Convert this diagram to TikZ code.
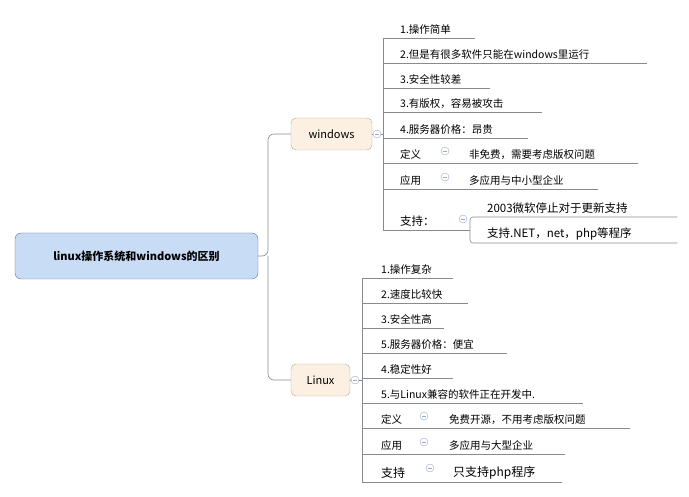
\documentclass[tikz,border=0pt]{standalone}
\usepackage{fontspec}
\setmainfont{Noto Sans CJK SC}
\usetikzlibrary{positioning}
\definecolor{rootfill}{HTML}{C9DCF6}
\definecolor{rootline}{HTML}{5C6F8C}
\definecolor{topicfill}{HTML}{FCF0E3}
\definecolor{topicline}{HTML}{B8A892}
\definecolor{linkgray}{HTML}{8A8A8A}
\definecolor{foldblue}{HTML}{9AAAC2}
\begin{document}
\begin{tikzpicture}[
        x=1pt, y=-1pt,
        font=\fontsize{10.5}{12}\selectfont,
        root/.style={draw=rootline, fill=rootfill, rounded corners=6pt, minimum width=243pt, minimum height=46pt, font=\fontsize{11}{13}\selectfont\bfseries},
        topic/.style={draw=topicline, fill=topicfill, rounded corners=5pt, minimum height=32pt, font=\fontsize{11}{13}\selectfont},
        item/.style={anchor=south west, inner xsep=0pt, inner ysep=3pt, text width=#1, align=left},
        fold/.style={circle, draw=foldblue, fill=white, inner sep=0pt, minimum size=8pt,
            path picture={\draw[foldblue] ([xshift=-2pt]path picture bounding box.center) -- ([xshift=2pt]path picture bounding box.center);}},
        link/.style={draw=linkgray, line width=0.6pt}
    ]
    \useasboundingbox (0,0) rectangle (689,497);

    % Root and the two main topics
    \node[root] (root) at (136.5,256) {linux操作系统和windows的区别};
    \node[topic, minimum width=81pt] (win) at (331.5,134) {windows};
    \node[topic, minimum width=59pt] (lin) at (320.5,380) {Linux};
    \coordinate (fork) at (268,256);
    \draw[link, rounded corners=6pt] (root.east) -- (fork) |- (win.west);
    \draw[link, rounded corners=6pt] (fork) |- (lin.west);

    % windows items
    \foreach \n/\y/\e/\t in {1/38/475/1.操作简单, 2/63/647/2.但是有很多软件只能在windows里运行,
        3/88/490/3.安全性较差, 4/112/542/3.有版权，容易被攻击, 5/138/528/4.服务器价格：昂贵} {
        \coordinate (wb\n) at (383,\y);
        \node[item=\e pt-400pt] (w\n) at (400,\y) {\t};
        \draw[link] (wb\n) -- (w\n.south east);
    }
    % windows: 定义, 应用, 支持
    \coordinate (wb6) at (383,163);
    \node[item=30pt] (wdef) at (400,163) {定义};
    \node[item=169pt] (wdefc) at (469,163) {非免费，需要考虑版权问题};
    \draw[link] (wb6) -- (wdefc.south east);
    \node[fold] (wdeffold) at (445,151) {};
    \coordinate (wb7) at (383,189);
    \node[item=30pt] (wapp) at (400,189) {应用};
    \node[item=129pt] (wappc) at (469,189) {多应用与中小型企业};
    \draw[link] (wb7) -- (wappc.south east);
    \node[fold] (wappfold) at (445,177) {};
    \coordinate (wb8) at (383,230);
    \node[item=45pt, font=\fontsize{11.5}{13}\selectfont] (wsup) at (400,230) {支持：};
    \coordinate (wsb1) at (470,217);
    \coordinate (wsb2) at (470,243);
    \node[item=190pt, font=\fontsize{11.5}{13}\selectfont] (wsup1) at (487,217) {2003微软停止对于更新支持};
    \node[item=190pt, font=\fontsize{11.5}{13}\selectfont] (wsup2) at (487,243) {支持.NET，net，php等程序};
    \draw[link] (wb8) -- (wsb1 |- wb8);
    \draw[link, rounded corners=3pt] (wsup1.south east) -- (wsb1) -- (wsb2) -- (wsup2.south east);
    \draw[link, rounded corners=3pt] (wb1) -- (wb8);
    \node[fold] (wsupfold) at (463,219) {};
    \node[fold] (winfold) at (377,134) {};
    \draw[link] (win.east) -- (winfold);
    \draw[link] (winfold.east) -- (wb1 |- winfold);

    % Linux items
    \foreach \n/\y/\e/\t in {1/278/453/1.操作复杂, 2/303/468/2.速度比较快, 3/328/444/3.安全性高,
        4/353/507/5.服务器价格：便宜, 5/378/453/4.稳定性好, 6/403/583/5.与Linux兼容的软件正在开发中.} {
        \coordinate (lb\n) at (362,\y);
        \node[item=\e pt-381pt] (l\n) at (381,\y) {\t};
        \draw[link] (lb\n) -- (l\n.south east);
    }
    % Linux: 定义, 应用, 支持
    \coordinate (lb7) at (362,428);
    \node[item=30pt] (ldef) at (381,428) {定义};
    \node[item=181pt] (ldefc) at (449,428) {免费开源，不用考虑版权问题};
    \draw[link] (lb7) -- (ldefc.south east);
    \node[fold] (ldeffold) at (424,416) {};
    \coordinate (lb8) at (362,454);
    \node[item=30pt] (lapp) at (381,454) {应用};
    \node[item=116pt] (lappc) at (449,454) {多应用与大型企业};
    \draw[link] (lb8) -- (lappc.south east);
    \node[fold] (lappfold) at (424,442) {};
    \coordinate (lb9) at (362,482);
    \node[item=40pt, font=\fontsize{12}{14}\selectfont] (lsup) at (381,482) {支持};
    \node[item=109pt, font=\fontsize{12}{14}\selectfont] (lsupc) at (453,482) {只支持php程序};
    \draw[link] (lb9) -- (lsupc.south east);
    \node[fold] (lsupfold) at (430,468) {};
    \draw[link] (lb1) -- (lb9);
    \node[fold] (linfold) at (355,380) {};
    \draw[link] (lin.east) -- (linfold);
    \draw[link] (linfold.east) -- (lb1 |- linfold);
\end{tikzpicture}
\end{document}
